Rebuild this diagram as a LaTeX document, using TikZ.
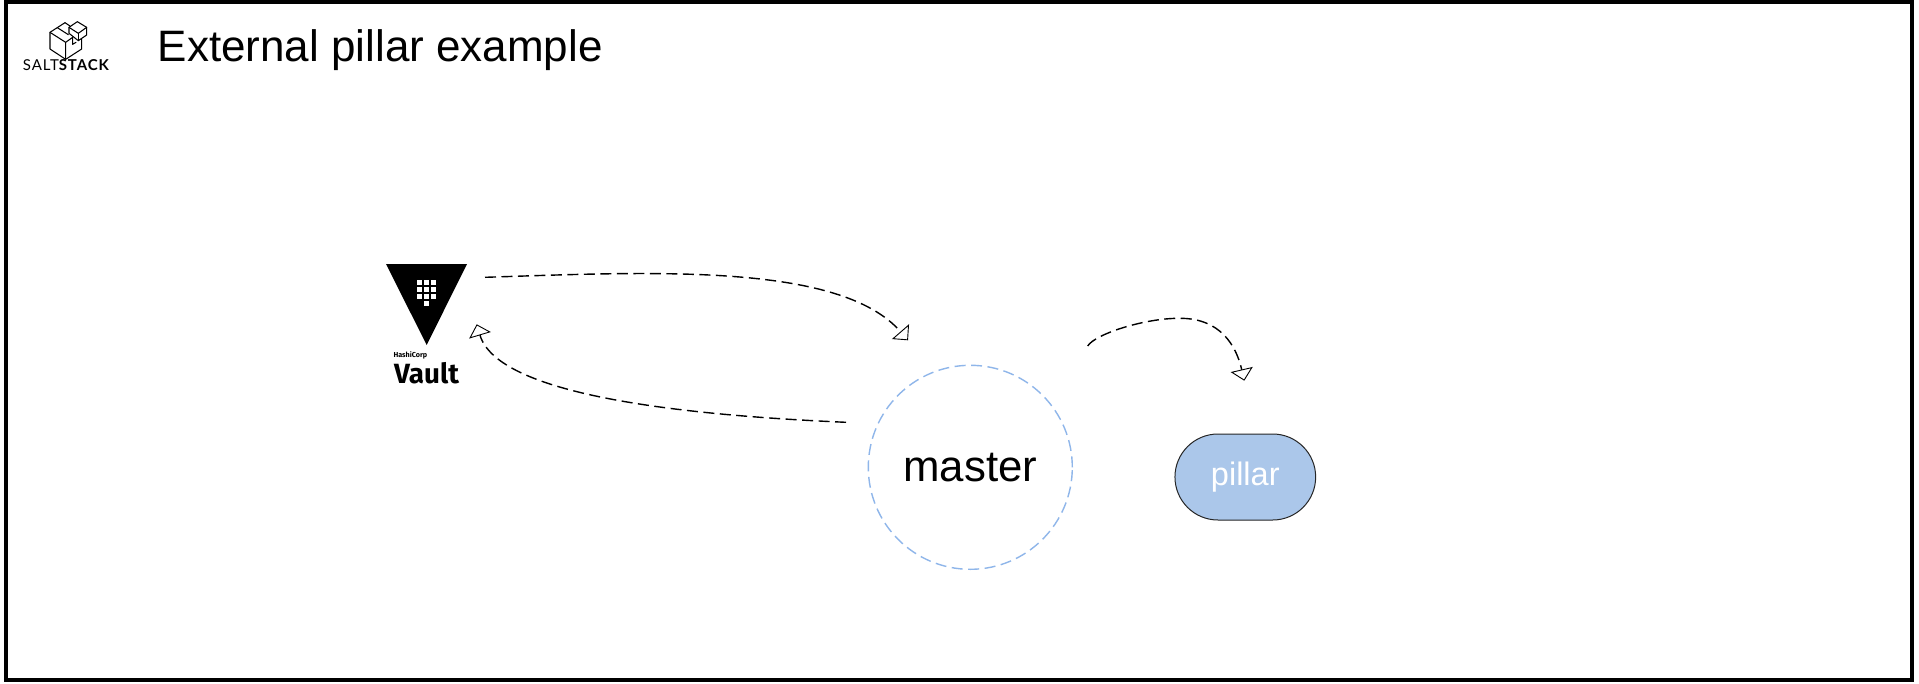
\documentclass[tikz,border=0pt]{standalone}
\usepackage{fontspec}
\setmainfont{Liberation Sans}
\newfontfamily\logofont[LetterSpace=6]{Lato}
\newfontfamily\vaultfont{Fira Sans}
\usetikzlibrary{arrows.meta,shapes.geometric}
\definecolor{circleblue}{HTML}{8FB6EA}
\definecolor{pillarblue}{HTML}{ABC7EA}
\tikzset{
  flow/.style={draw=black,line width=1.4,dash pattern=on 11 off 5.5,
    -{Triangle[open,length=11.5,width=22.5,line width=0.9]}},
  framebox/.style={draw=black,line width=4,fill=white},
  mastercircle/.style={circle,draw=circleblue,line width=1.4,dash pattern=on 11 off 5.5,
    minimum size=204,inner sep=0,font=\fontsize{43.8}{50}\selectfont},
  pillarbox/.style={rectangle,rounded corners=43,draw=black!85,line width=1,fill=pillarblue,
    minimum width=140.7,minimum height=86,inner sep=0,text=white,font=\fontsize{32.5}{38}\selectfont},
  titletext/.style={anchor=base west,inner sep=0,font=\fontsize{44}{50}\selectfont},
  logoline/.style={draw=black,line width=1.05,line join=round,line cap=round},
  gridcell/.style={fill=white,draw=none,minimum size=5,inner sep=0,rectangle},
  wordmark/.style={anchor=base west,inner sep=0}
}
\begin{document}
\begin{tikzpicture}[x=1pt,y=-1pt]
\useasboundingbox (0,0) rectangle (1919,683);
\fill[white] (0,0) rectangle (1919,683);
\draw[framebox] (5.8,2) rectangle (1912.2,680);
% title
\node[titletext] (title) at (157.5,61) {External pillar example};
% SaltStack logo
\begin{scope}[x=0.3333pt,y=-0.3333pt]
\draw[logoline] (195,68) -- (150,97) -- (150,147) -- (197,178) -- (245,147) -- (245,118);
\draw[logoline] (150,97) -- (197,127) -- (197,178);
\draw[logoline] (197,127) -- (218,112) -- (218,133) -- (228,127);
\draw[logoline] (195,68) -- (210,78);
\draw[logoline] (172,83) -- (205,104);
\draw[logoline] (232,65) -- (207,82) -- (207,100) -- (235,122) -- (260,105) -- (260,82) -- cycle;
\draw[logoline] (207,82) -- (235,100) -- (260,82);
\draw[logoline] (235,100) -- (235,122);
\end{scope}
\node[wordmark] (saltstack) at (22.7,70.7) {\logofont\fontsize{15}{17}\selectfont SALT\bfseries STACK};
% Vault logo
\fill[black] (386,264) -- (467,264) -- (426.7,345) -- cycle;
\foreach \r/\yy in {a/282.5,b/289.5,c/296.5}{
  \foreach \c/\xx in {l/419.5,m/426.5,n/433.5}{
    \node[gridcell] (cell\r\c) at (\xx,\yy) {};
  }
}
\node[gridcell] (celldm) at (426.5,303.8) {};
\node[wordmark] (hashicorp) at (393.3,357) {\vaultfont\bfseries\fontsize{7.2}{9}\selectfont HashiCorp};
\node[wordmark] (vault) at (394,383.3) {\vaultfont\bfseries\fontsize{27.8}{32}\selectfont Vault};
% main nodes
\node[mastercircle] (master) at (970.3,467.3) {master};
\node[pillarbox] (pillar) at (1245.3,477) {pillar};
% connector ends
\coordinate (vaultout) at (485,277.3);
\coordinate (masterin) at (908,340.3);
\coordinate (masterout) at (846,422.3);
\coordinate (vaultin) at (476.7,324.3);
\coordinate (pillarfrom) at (1087.7,346);
\coordinate (pillarmid) at (1180,318.3);
\coordinate (pillarin) at (1244.3,380.7);
\draw[flow] (vaultout) .. controls (650,272) and (840,262) .. (masterin);
\draw[flow] (masterout) .. controls (680,415) and (498,395) .. (vaultin);
\draw[flow] (pillarfrom) .. controls (1095,334) and (1145,318) .. (pillarmid) .. controls (1220,318.3) and (1236,345) .. (pillarin);
\end{tikzpicture}
\end{document}
